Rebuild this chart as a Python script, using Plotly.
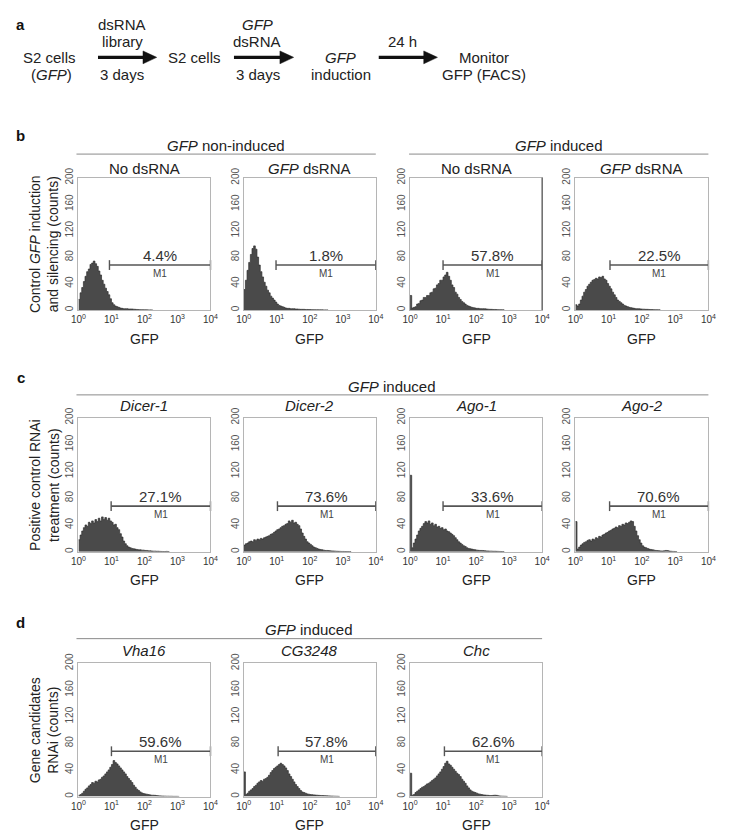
import math
import plotly.graph_objects as go

# ---------------- data ----------------
BIN_LOG_START = 0.0      # first histogram bin edge, log10(GFP)
BIN_LOG_WIDTH = 0.05     # bin width in decades

panel_titles = ["No dsRNA", "<i>GFP</i> dsRNA", "No dsRNA", "<i>GFP</i> dsRNA",
                "<i>Dicer-1</i>", "<i>Dicer-2</i>", "<i>Ago-1</i>", "<i>Ago-2</i>",
                "<i>Vha16</i>", "<i>CG3248</i>", "<i>Chc</i>"]
percent_labels = ["4.4%", "1.8%", "57.8%", "22.5%",
                  "27.1%", "73.6%", "33.6%", "70.6%",
                  "59.6%", "57.8%", "62.6%"]
m1_start = [8.7, 9.5, 10.0, 11.0, 9.8, 10.5, 10.0, 10.7, 10.0, 11.0, 11.0]
M1_END = 10000
M1_LEVEL = 68

counts_b1 = [16, 26, 34, 43, 51, 58, 62, 69, 71, 74, 70, 66, 59, 53, 45, 39, 33, 28, 23, 17,
             11, 8, 6, 5, 4, 3, 2.5, 2, 2, 2, 1.5, 1.5, 1.5, 1.2, 1, 0.8, 0.6, 0.5, 0.5, 0.4,
             0.3, 0.3, 0.2, 0.2, 0.1]
counts_b2 = [31, 45, 60, 72, 84, 93, 97, 92, 80, 68, 58, 50, 42, 36, 30, 26, 21, 18, 15, 12,
             9, 7, 6, 5, 4, 3, 2.5, 2.5, 2, 2, 2, 1.5, 1.5, 1.2, 1, 1, 1, 0.8, 0.8, 0.7,
             0.6, 0.5, 0.5, 0.4, 0.4, 0.3, 0.3, 0.3, 0.2, 0.2, 0.2]
counts_b3 = [22, 3, 4, 5, 9, 10, 14, 15, 19, 19, 22, 22, 26, 27, 32, 33, 38, 40, 45, 45,
             50, 53, 57, 51, 45, 38, 34, 27, 24, 19, 16, 13, 11, 9, 7, 6, 5, 4, 3.5, 3,
             2.5, 2.5, 2, 2, 2, 1.8, 1.5, 1.2, 1, 1, 0.8, 0.8, 0.6, 0.5, 0.5, 0.4, 0.3]
counts_b4 = [8, 6, 9, 15, 21, 27, 31, 36, 39, 42, 45, 46, 48, 47, 50, 49, 51, 47, 45, 40,
             36, 32, 27, 23, 19, 15, 13, 11, 9, 7, 6, 5, 4, 3.5, 3, 2.5, 2, 2, 1.8, 1.5,
             1.3, 1.2, 1, 1, 0.8, 0.7, 0.6, 0.5, 0.5, 0.4, 0.3]
counts_c1 = [18, 25, 31, 36, 40, 38, 44, 42, 46, 43, 48, 45, 50, 46, 52, 48, 51, 47, 50, 46,
             44, 40, 41, 36, 33, 27, 22, 16, 12, 9, 7, 6, 5, 4.5, 4, 3.5, 3, 3, 2.5, 2.5,
             2, 2, 1.5, 1.5, 1.2, 1, 1, 0.8, 0.8, 0.6, 0.5, 0.4, 0.4, 0.6, 0.3]
counts_c2 = [10, 12, 13, 15, 16, 15, 18, 17, 19, 18, 20, 19, 21, 22, 23, 24, 26, 27, 29, 31,
             33, 34, 36, 38, 39, 41, 42, 46, 44, 47, 43, 44, 41, 39, 34, 28, 23, 19, 15, 13,
             11, 9, 7, 6, 5, 4, 3.5, 3, 2.5, 2, 2, 1.8, 1.5, 1.3, 1.2, 1, 0.8, 0.7, 0.6, 0.5,
             0.5, 0.4, 0.4, 0.3, 0.3]
counts_c3 = [114, 6, 13, 19, 25, 31, 35, 38, 42, 45, 43, 46, 41, 43, 39, 41, 37, 38, 35, 36,
             33, 34, 31, 30, 28, 26, 24, 21, 18, 15, 13, 11, 9, 8, 6, 5, 4.5, 4, 3.5, 3,
             2.5, 2.2, 2, 2, 1.8, 1.5, 1.3, 1.2, 1, 1, 0.8, 0.8, 0.7, 0.6, 0.5, 0.4, 0.3]
counts_c4 = [45, 4, 7, 10, 12, 14, 15, 17, 18, 16, 19, 18, 21, 20, 23, 22, 25, 26, 28, 29,
             31, 32, 34, 35, 37, 36, 39, 38, 41, 40, 43, 42, 44, 46, 45, 38, 31, 24, 18, 13,
             9, 7, 6, 5, 4, 3.5, 3, 2.5, 2, 1.8, 1.5, 1.3, 1.2, 1.5, 2, 1.8, 1.2, 0.8, 0.6,
             0.5, 0.4]
counts_d1 = [2, 3, 5, 8, 11, 13, 16, 18, 21, 20, 23, 22, 25, 26, 29, 31, 34, 37, 40, 44,
             48, 54, 51, 49, 46, 43, 40, 37, 34, 30, 27, 24, 21, 17, 14, 11, 9, 7, 5.5, 4.5,
             4, 3.5, 3, 2.5, 2, 2, 1.8, 1.5, 1.2, 1, 0.8, 0.7, 0.6, 0.5, 0.5, 0.4, 0.4, 0.3,
             0.3, 0.3, 0.2]
counts_d2 = [37, 3, 5, 8, 10, 12, 15, 17, 20, 22, 24, 23, 26, 27, 29, 32, 36, 39, 42, 44,
             46, 48, 50, 48, 46, 43, 39, 34, 30, 26, 22, 18, 15, 12, 9, 7, 6, 5, 4, 3.5,
             3, 2.8, 2.5, 2.2, 2, 1.8, 1.6, 1.5, 1.4, 1.3, 1.1, 1, 0.8, 0.7, 0.6, 0.5, 0.4, 0.3]
counts_d3 = [35, 2, 3, 6, 8, 10, 12, 14, 15, 17, 19, 20, 22, 24, 26, 28, 31, 34, 37, 41,
             45, 50, 53, 49, 47, 44, 41, 38, 35, 33, 30, 26, 23, 20, 16, 13, 10, 8, 7, 6,
             5, 4, 3.5, 3, 2.5, 2.2, 2, 1.8, 1.5, 1.5, 1.8, 2, 1.8, 1.2, 0.8, 0.6, 0.5, 0.4, 0.3]

all_counts = [counts_b1, counts_b2, counts_b3, counts_b4,
              counts_c1, counts_c2, counts_c3, counts_c4,
              counts_d1, counts_d2, counts_d3]

x_tick_vals = [1, 10, 100, 1000, 10000]
x_tick_text = ["10<sup>0</sup>", "10<sup>1</sup>", "10<sup>2</sup>", "10<sup>3</sup>", "10<sup>4</sup>"]
y_tick_vals = [0, 40, 80, 120, 160, 200]

row_titles = ["Control <i>GFP</i> induction<br>and silencing (counts)",
              "Positive control RNAi<br>treatment (counts)",
              "Gene candidates<br>RNAi (counts)"]

# ---------------- layout geometry (pixels) ----------------
W, H = 734, 839
COL_X = [(72, 207), (241, 376), (411, 546), (580, 716)]
ROW_Y = [(170, 304), (413, 549), (662, 797)]
panel_grid = [(0, 0), (0, 1), (0, 2), (0, 3),
              (1, 0), (1, 1), (1, 2), (1, 3),
              (2, 0), (2, 1), (2, 2)]
SUB_Y = [161, 401, 649]


def px(x):
    return x / W


def py(y):
    return 1 - y / H


FONT = "Liberation Sans, Arial, Helvetica, sans-serif"
fig = go.Figure()
layout = dict(width=W, height=H, margin=dict(l=0, r=0, t=0, b=0, pad=0),
              paper_bgcolor="white", plot_bgcolor="white", showlegend=False,
              font=dict(family=FONT, color="#222", size=14))
annotations = []
shapes = []


def text_at(x, y, text, size, color="#222", angle=0):
    annotations.append(dict(x=px(x), y=py(y), xref="paper", yref="paper", text=text,
                            xanchor="center", yanchor="middle", showarrow=False,
                            textangle=angle, font=dict(size=size, color=color)))


for i, (r, c) in enumerate(panel_grid):
    n = i + 1
    xs = "" if n == 1 else str(n)
    x0, x1 = COL_X[c]
    y0, y1 = ROW_Y[r]
    layout["xaxis" + xs] = dict(
        type="log", range=[0, 4], domain=[px(x0), px(x1)], anchor="y" + xs,
        tickvals=x_tick_vals, ticktext=x_tick_text, tickfont=dict(size=10, color="#333"),
        showline=True, mirror=True, linecolor="#b5b5b5", linewidth=1,
        showgrid=False, zeroline=False, ticks="")
    layout["yaxis" + xs] = dict(
        range=[0, 200], domain=[py(y1), py(y0)], anchor="x" + xs,
        tickvals=y_tick_vals, tickangle=-90, tickfont=dict(size=10, color="#555"),
        showline=True, mirror=True, linecolor="#b5b5b5", linewidth=1,
        showgrid=False, zeroline=False, ticks="")

    counts = all_counts[i]
    edges = [10 ** (BIN_LOG_START + k * BIN_LOG_WIDTH) for k in range(len(counts) + 1)]
    fig.add_trace(go.Scatter(
        x=edges, y=list(counts) + [0], mode="lines",
        line=dict(shape="hv", color="#2f2f2f", width=0.7),
        fill="tozeroy", fillcolor="#4a4a4a",
        xaxis="x" + xs, yaxis="y" + xs, hoverinfo="skip"))

    # M1 marker
    fig.add_trace(go.Scatter(
        x=[m1_start[i], M1_END], y=[M1_LEVEL, M1_LEVEL], mode="lines+markers",
        line=dict(color="#555", width=1.6),
        marker=dict(symbol="line-ns-open", size=7, line=dict(color="#555", width=1.4)),
        cliponaxis=False, xaxis="x" + xs, yaxis="y" + xs, hoverinfo="skip"))
    mid = (math.log10(m1_start[i]) + math.log10(M1_END)) / 2
    annotations.append(dict(x=mid, y=82, xref="x" + xs, yref="y" + xs,
                            xanchor="center", yanchor="middle",
                            text=percent_labels[i], showarrow=False,
                            font=dict(size=15, color="#333")))
    annotations.append(dict(x=mid, y=55, xref="x" + xs, yref="y" + xs,
                            xanchor="center", yanchor="middle",
                            text="M1", showarrow=False,
                            font=dict(size=10, color="#444")))
    # subtitle and x title
    text_at((x0 + x1) / 2, SUB_Y[r], panel_titles[i], 15)
    text_at((x0 + x1) / 2, y1 + 29, "GFP", 14)

# darker right border on b3
shapes.append(dict(type="line", xref="paper", yref="paper",
                   x0=px(COL_X[2][1]), x1=px(COL_X[2][1]),
                   y0=py(ROW_Y[0][1]), y1=py(ROW_Y[0][0]),
                   line=dict(color="#555", width=1.2)))

# row y titles
for r, t in enumerate(row_titles):
    yc = (ROW_Y[r][0] + ROW_Y[r][1]) / 2
    text_at(37, yc, t, 14, angle=-90)

# group headers
headers = [("<i>GFP</i> non-induced", 70, 376, 137, 146),
           ("<i>GFP</i> induced", 410, 716, 137, 146),
           ("<i>GFP</i> induced", 70, 716, 381, 390),
           ("<i>GFP</i> induced", 70, 546, 628, 637)]
for text, xa, xb, ty, ly in headers:
    text_at((xa + xb) / 2, ty, text, 15)
    shapes.append(dict(type="line", xref="paper", yref="paper", x0=px(xa), x1=px(xb),
                       y0=py(ly), y1=py(ly), line=dict(color="#8a8a8a", width=1)))

# panel letters
for letter, (lx, ly) in zip("abcd", [(13, 15), (13, 127), (13, 372), (13, 621)]):
    text_at(lx, ly, "<b>%s</b>" % letter, 15, color="#111")

# panel a: flow diagram
flow_texts = [("S2 cells", 42, 48), ("(<i>GFP</i>)", 44, 65),
              ("dsRNA", 117, 15), ("library", 117, 32), ("3 days", 117, 65),
              ("S2 cells", 191, 48),
              ("<i>GFP</i>", 255, 15), ("dsRNA", 255, 32), ("3 days", 256, 65),
              ("<i>GFP</i>", 340, 48), ("induction", 340, 65),
              ("24 h", 403, 32),
              ("Monitor", 487, 48), ("GFP (FACS)", 487, 65)]
for t, tx, ty in flow_texts:
    text_at(tx, ty, t, 15)

for ax0, ax1 in [(92, 152), (231, 292), (379, 439)]:
    ay = 48
    head = 14
    shapes.append(dict(type="line", xref="paper", yref="paper",
                       x0=px(ax0), x1=px(ax1 - head + 1), y0=py(ay), y1=py(ay),
                       line=dict(color="#111", width=3.2)))
    path = "M %f,%f L %f,%f L %f,%f Z" % (px(ax1 - head), py(ay - 6.5),
                                          px(ax1), py(ay),
                                          px(ax1 - head), py(ay + 6.5))
    shapes.append(dict(type="path", xref="paper", yref="paper", path=path,
                       fillcolor="#111", line=dict(color="#111", width=0.5)))

layout["annotations"] = annotations
layout["shapes"] = shapes
fig.update_layout(**layout)
fig.write_html("out.html", config={"displayModeBar": False, "staticPlot": True},
               post_script="document.body.style.margin='0';document.body.style.padding='0';")
